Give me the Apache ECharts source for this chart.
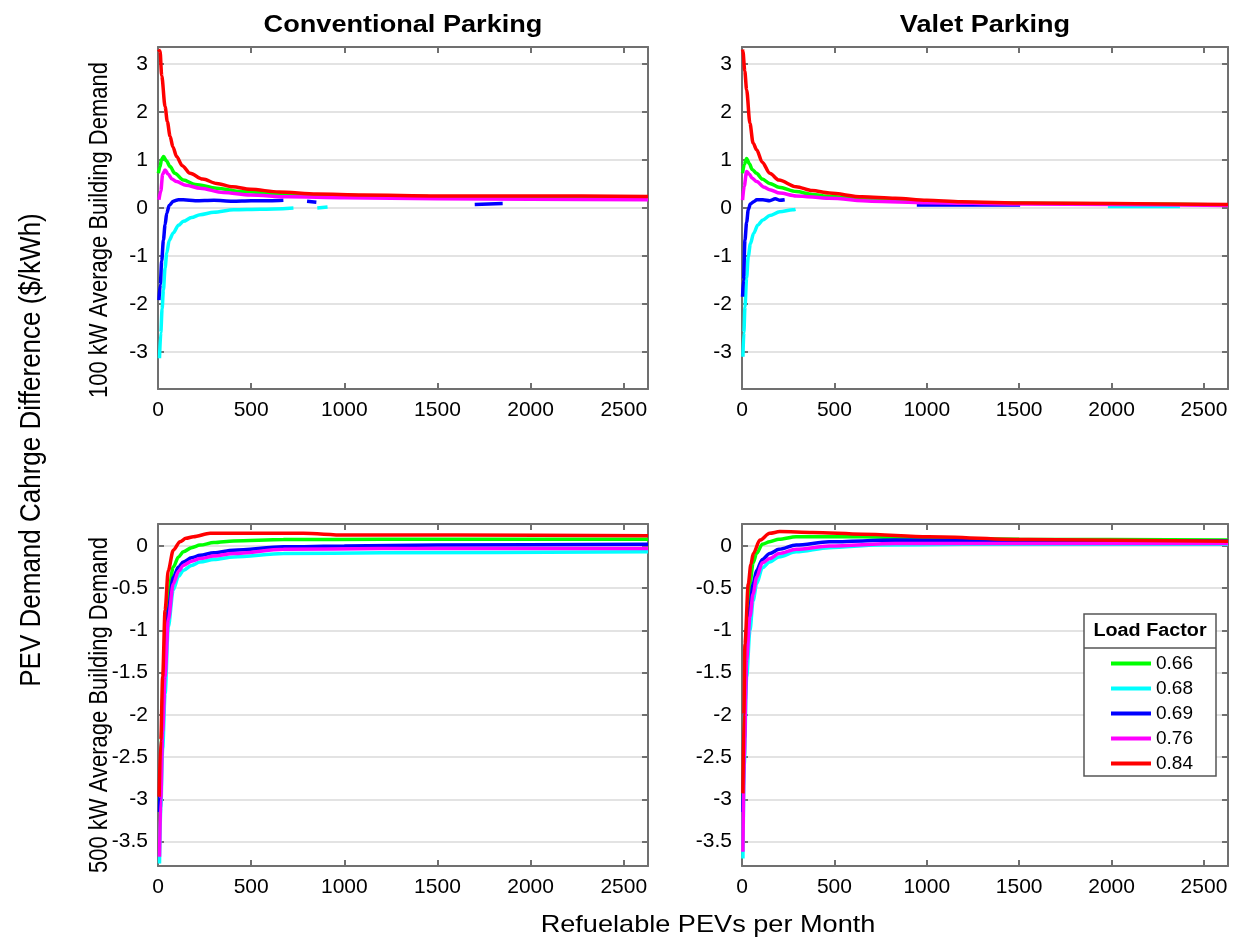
<!DOCTYPE html>
<html>
<head>
<meta charset="utf-8">
<script src="https://cdn.jsdelivr.net/npm/echarts@6/dist/echarts.min.js"></script>
<style>
  html, body { margin: 0; padding: 0; background: #fff; }
  #chart { width: 1235px; height: 941px; }
</style>
</head>
<body>
<div id="chart"></div>
<script>
// load factors (legend) and tick labels
const loadFactors = ['0.66', '0.68', '0.69', '0.76', '0.84']
const xTicks = [0, 500, 1000, 1500, 2000, 2500]
const topYTicks = [-3, -2, -1, 0, 1, 2, 3]
const bottomYTicks = [-3.5, -3, -2.5, -2, -1.5, -1, -0.5, 0]

// Conventional parking, 100 kW building
const conv100_066 = [[2,0.72],[10,0.85],[20,1.02],[30,1.07],[45,0.98],[65,0.86],[90,0.72],[136,0.58],[200,0.49],[315,0.41],[450,0.34],[673,0.29],[900,0.27],[1200,0.25],[1450,0.24],[2000,0.23],[2630,0.22]]
const conv100_068 = [[8,-3.13],[15,-2.6],[22,-2.1],[29,-1.71],[38,-1.25],[47,-0.94],[60,-0.68],[82,-0.52],[110,-0.36],[136,-0.28],[180,-0.2],[226,-0.14],[300,-0.09],[405,-0.04],[550,-0.03],[727,0.0],[790,'-'],[855,0.0],[910,0.02]]
const conv100_069 = [[5,-1.92],[12,-1.6],[20,-1.1],[29,-0.67],[38,-0.35],[47,-0.11],[60,0.05],[82,0.14],[110,0.17],[136,0.17],[200,0.15],[300,0.16],[400,0.14],[500,0.15],[600,0.15],[673,0.16],[740,'-'],[800,0.14],[850,0.12],[1200,'-'],[1700,0.07],[1850,0.09]]
const conv100_076 = [[5,0.17],[15,0.35],[25,0.7],[38,0.79],[55,0.7],[75,0.6],[100,0.55],[150,0.47],[226,0.41],[350,0.32],[495,0.27],[700,0.23],[1000,0.21],[1500,0.19],[2000,0.18],[2630,0.17]]
const conv100_084 = [[3,3.3],[11,3.26],[20,2.75],[38,2.11],[50,1.8],[65,1.49],[80,1.27],[100,1.07],[130,0.88],[172,0.72],[240,0.6],[315,0.51],[400,0.44],[495,0.39],[650,0.33],[853,0.29],[1100,0.27],[1500,0.25],[2000,0.25],[2630,0.24]]

// Valet parking, 100 kW building
const valet100_066 = [[3,0.72],[12,0.9],[25,1.03],[40,0.92],[55,0.8],[79,0.72],[110,0.6],[150,0.51],[200,0.43],[293,0.34],[380,0.28],[472,0.24],[650,0.19],[900,0.14],[1300,0.11],[1700,0.09],[2100,0.08],[2630,0.06]]
const valet100_068 = [[5,-3.1],[10,-2.6],[16,-2.06],[25,-1.45],[34,-1.01],[45,-0.75],[63,-0.53],[85,-0.36],[113,-0.25],[150,-0.16],[204,-0.08],[275,-0.04],[290,-0.03],[1000,'-'],[1980,0.03],[2370,0.03]]
const valet100_069 = [[3,-1.85],[8,-1.5],[16,-0.67],[25,-0.3],[34,-0.04],[45,0.08],[63,0.13],[80,0.17],[113,0.17],[150,0.15],[180,0.19],[205,0.16],[231,0.17],[600,'-'],[946,0.06],[1200,0.06],[1505,0.06]]
const valet100_076 = [[3,0.16],[12,0.45],[25,0.76],[40,0.7],[55,0.62],[79,0.55],[120,0.43],[150,0.38],[204,0.31],[293,0.25],[472,0.2],[700,0.14],[1000,0.11],[1500,0.08],[2000,0.07],[2630,0.05]]
const valet100_084 = [[3,3.3],[5,3.26],[15,2.85],[25,2.46],[43,1.76],[60,1.35],[79,1.21],[110,0.95],[150,0.72],[200,0.58],[293,0.44],[380,0.36],[472,0.31],[650,0.23],[829,0.2],[1000,0.16],[1185,0.13],[1543,0.1],[2000,0.09],[2630,0.07]]

// Conventional parking, 500 kW building
const conv500_066 = [[8,-3.02],[15,-2.6],[25,-1.8],[38,-1.16],[55,-0.56],[82,-0.25],[110,-0.13],[136,-0.07],[180,-0.02],[226,0.01],[300,0.04],[405,0.06],[673,0.075],[1200,0.08],[2630,0.08]]
const conv500_068 = [[8,-3.76],[15,-3.1],[25,-2.4],[38,-1.75],[55,-0.96],[82,-0.52],[110,-0.36],[136,-0.29],[180,-0.23],[226,-0.19],[300,-0.16],[405,-0.13],[673,-0.09],[1200,-0.08],[2630,-0.07]]
const conv500_069 = [[8,-3.15],[15,-2.6],[25,-2.0],[38,-1.35],[55,-0.76],[82,-0.37],[110,-0.25],[136,-0.19],[180,-0.14],[226,-0.11],[300,-0.08],[405,-0.05],[673,-0.01],[1000,0.0],[1500,0.01],[2630,0.02]]
const conv500_076 = [[8,-3.68],[15,-3.0],[25,-2.2],[38,-1.55],[55,-0.88],[82,-0.45],[110,-0.3],[136,-0.23],[180,-0.18],[226,-0.15],[300,-0.12],[405,-0.09],[673,-0.04],[1200,-0.03],[2630,-0.03]]
const conv500_084 = [[6,-2.97],[15,-2.3],[25,-1.55],[38,-0.76],[55,-0.29],[82,-0.05],[118,0.05],[150,0.09],[190,0.11],[280,0.15],[500,0.15],[780,0.15],[1000,0.13],[1600,0.13],[2630,0.12]]

// Valet parking, 500 kW building
const valet500_066 = [[5,-3.0],[12,-2.2],[25,-0.96],[43,-0.45],[60,-0.2],[79,-0.09],[110,0.02],[150,0.05],[200,0.08],[293,0.11],[652,0.11],[1000,0.09],[1500,0.08],[2630,0.07]]
const valet500_068 = [[5,-3.7],[12,-2.6],[25,-1.55],[43,-1.0],[60,-0.65],[79,-0.45],[110,-0.26],[150,-0.19],[200,-0.13],[293,-0.07],[472,-0.02],[740,0.01],[1200,0.02],[2630,0.02]]
const valet500_069 = [[5,-3.15],[12,-2.3],[25,-1.16],[43,-0.72],[60,-0.45],[79,-0.29],[110,-0.16],[150,-0.09],[200,-0.04],[293,0.01],[472,0.05],[829,0.07],[1500,0.06],[2630,0.06]]
const valet500_076 = [[5,-3.62],[12,-2.5],[25,-1.35],[43,-0.84],[60,-0.57],[79,-0.37],[110,-0.2],[150,-0.15],[200,-0.09],[293,-0.04],[472,0.0],[829,0.03],[1500,0.03],[2630,0.03]]
const valet500_084 = [[5,-2.93],[10,-2.0],[16,-1.16],[34,-0.45],[48,-0.22],[61,-0.09],[97,0.07],[150,0.15],[204,0.17],[383,0.16],[652,0.14],[1010,0.11],[1548,0.075],[2630,0.055]]

const panels = [
  [conv100_066, conv100_068, conv100_069, conv100_076, conv100_084],
  [valet100_066, valet100_068, valet100_069, valet100_076, valet100_084],
  [conv500_066, conv500_068, conv500_069, conv500_076, conv500_084],
  [valet500_066, valet500_068, valet500_069, valet500_076, valet500_084]
]

const lineColors = ['#00ff00', '#00ffff', '#0000ff', '#ff00ff', '#ff0000']
const font = 'Liberation Sans, Arial, sans-serif'
const axisColor = '#707070'
const stretch = 1.13 // the source picture is a little wider than tall

const grids = [
  {left: 158, top: 47, width: 490, height: 342},
  {left: 742, top: 47, width: 486, height: 342},
  {left: 158, top: 524, width: 490, height: 342},
  {left: 742, top: 524, width: 486, height: 342}
]

let xAxis = []
let yAxis = []
grids.forEach((g, i) => {
  const isTop = i < 2
  const yTicks = isTop ? topYTicks : bottomYTicks
  const yMin = isTop ? -3.77 : -3.79
  const yMax = isTop ? 3.35 : 0.26
  ;['bottom', 'top'].forEach(pos => {
    xAxis.push({
      type: 'value', gridIndex: i, position: pos, min: 0, max: 2630,
      axisLine: {show: true, onZero: false, lineStyle: {color: axisColor, width: 2}},
      axisTick: {show: true, inside: true, length: 6, customValues: xTicks, lineStyle: {color: axisColor, width: 2}},
      axisLabel: {show: pos === 'bottom', customValues: xTicks, formatter: v => String(v),
        color: '#000', fontSize: 21, fontFamily: font, margin: 11},
      splitLine: {show: false}
    })
  })
  ;['left', 'right'].forEach(pos => {
    yAxis.push({
      type: 'value', gridIndex: i, position: pos, min: yMin, max: yMax,
      axisLine: {show: true, onZero: false, lineStyle: {color: axisColor, width: 2}},
      axisTick: {show: true, inside: true, length: 6, customValues: yTicks, lineStyle: {color: axisColor, width: 2}},
      axisLabel: {show: pos === 'left', customValues: yTicks, formatter: v => String(v),
        color: '#000', fontSize: 21, fontFamily: font, margin: 10},
      splitLine: {show: pos === 'left', lineStyle: {color: '#e3e3e3', width: 2}}
    })
  })
})

let series = []
panels.forEach((curves, i) => {
  curves.forEach((data, k) => {
    series.push({
      name: loadFactors[k],
      type: 'line',
      xAxisIndex: 2 * i,
      yAxisIndex: 2 * i,
      data: data,
      showSymbol: false,
      smooth: 0.3,
      smoothMonotone: 'x',
      connectNulls: false,
      lineStyle: {color: lineColors[k], width: 3.5},
      itemStyle: {color: lineColors[k]},
      z: 2 + k
    })
  })
})

function label(text, x, y, size, opts) {
  const o = opts || {}
  return {
    type: 'text', x: x, y: y, z: o.z || 10,
    rotation: o.rotate ? Math.PI / 2 : 0,
    scaleX: o.rotate ? 1 : stretch,
    scaleY: o.rotate ? stretch : 1,
    style: {text: text, fill: '#000', fontSize: size, fontWeight: o.bold ? 'bold' : 'normal',
      fontFamily: font, align: 'center', verticalAlign: 'middle'}
  }
}

const chart = echarts.init(document.getElementById('chart'), null, {renderer: 'canvas'})
chart.setOption({
  animation: false,
  backgroundColor: '#fff',
  grid: grids,
  xAxis: xAxis,
  yAxis: yAxis,
  series: series,
  legend: {
    data: loadFactors,
    orient: 'vertical',
    left: 1106,
    top: 649,
    itemWidth: 40,
    itemHeight: 4,
    itemGap: 6,
    icon: 'rect',
    z: 20,
    textStyle: {fontSize: 19, fontFamily: font, color: '#000', lineHeight: 18}
  },
  graphic: [
    {type: 'rect', z: 15, shape: {x: 1084, y: 614, width: 132, height: 162},
      style: {fill: '#fff', stroke: '#555', lineWidth: 1.5}},
    {type: 'line', z: 16, shape: {x1: 1084, y1: 648, x2: 1216, y2: 648},
      style: {stroke: '#555', lineWidth: 1.5}},
    label('Load Factor', 1150, 631, 17.5, {z: 16, bold: true}),
    label('Conventional Parking', 403, 25, 24, {bold: true}),
    label('Valet Parking', 985, 25, 24, {bold: true}),
    label('PEV Demand Cahrge Difference ($/kWh)', 32, 450, 26, {rotate: true}),
    label('100 kW Average Building Demand', 100, 230, 22, {rotate: true}),
    label('500 kW Average Building Demand', 100, 705, 22, {rotate: true}),
    label('Refuelable PEVs per Month', 708, 925, 24)
  ]
})
</script>
</body>
</html>
